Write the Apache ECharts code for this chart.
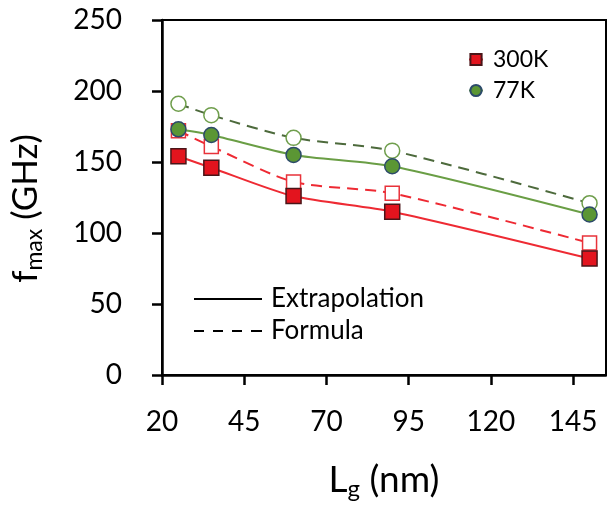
<!DOCTYPE html>
<html>
<head>
<meta charset="utf-8">
<script src="https://cdn.jsdelivr.net/npm/echarts@6/dist/echarts.min.js"></script>
<style>
html,body{margin:0;padding:0;background:#fff;}
#chart{width:607px;height:506px;}
</style>
</head>
<body>
<div id="chart"></div>
<script>
// gate length (nm)
var lg = [25, 35, 60, 90, 150];
// fmax (GHz)
var fmax300Extrap = [154, 146, 126, 115, 82];
var fmax300Formula = [172, 161, 136, 128, 93];
var fmax77Extrap = [173, 169, 155, 147, 113];
var fmax77Formula = [191, 183, 167, 158, 121];
var xTicks = [20, 45, 70, 95, 120, 145];

var FONT = 'Lato';

// legend line icons (solid / dashed), drawn as thin paths
var solidIcon = 'path://M0,0h68v2h-68z';
var dashIcon = 'path://M0,0h10v2h-10z M19,0h10v2h-10z M38,0h10v2h-10z M57,0h11v2h-11z';

function pairs(xs, ys){
	var out = [];
	for (var i = 0; i < xs.length; i++) {
		out.push([xs[i], ys[i]]);
	}
	return out;
}

var chart = echarts.init(document.getElementById('chart'));

var option = {
	animation: false,
	backgroundColor: '#fff',
	textStyle: {fontFamily: FONT},
	grid: {
		left: 162, right: 1, top: 20, bottom: 131,
		outerBoundsMode: 'none',
		show: true, borderColor: '#000', borderWidth: 2
	},
	legend: [{
		data: ['300K', '77K'],
		orient: 'vertical',
		left: 463, top: 43,
		itemWidth: 14, itemHeight: 14, itemGap: 8,
		textStyle: {fontSize: 23, color: '#000', fontFamily: FONT, padding: [0,0,0,5]}
	}, {
		data: [{name: 'Extrapolation', icon: solidIcon}, {name: 'Formula', icon: dashIcon}],
		orient: 'vertical',
		left: 189, top: 281,
		itemWidth: 68, itemHeight: 14, itemGap: 6,
		textStyle: {fontSize: 26, color: '#000', fontFamily: FONT, padding: [0,0,0,4]}
	}],
	xAxis: {
		type: 'value', min: 20, max: 155, interval: 25,
		splitLine: {show: false},
		axisLine: {lineStyle: {color: '#000', width: 2.5}},
		axisTick: {show: true, customValues: xTicks, length: 10, lineStyle: {color: '#000', width: 2.5}},
		axisLabel: {customValues: xTicks, fontSize: 28, color: '#000', fontFamily: FONT, margin: 33},
		name: '{a|L}{b|g}{a| (nm)}',
		nameLocation: 'middle', nameGap: 84,
		nameTextStyle: {
			rich: {
				a: {fontSize: 37, color: '#000', fontFamily: FONT},
				b: {fontSize: 24, color: '#000', fontFamily: FONT, padding: [18,0,0,0]}
			}
		}
	},
	yAxis: {
		type: 'value', min: 0, max: 250, interval: 50,
		splitLine: {show: false},
		axisLine: {show: true, lineStyle: {color: '#000', width: 2.5}},
		axisTick: {show: true, length: 10, lineStyle: {color: '#000', width: 2.5}},
		axisLabel: {fontSize: 28, color: '#000', fontFamily: FONT, margin: 40},
		name: '{a|f}{b|max}{a| (GHz)}',
		nameLocation: 'middle', nameRotate: 90, nameGap: 116,
		nameTextStyle: {
			padding: [0, 22, 0, 0],
			rich: {
				a: {fontSize: 35, color: '#000', fontFamily: FONT},
				b: {fontSize: 23, color: '#000', fontFamily: FONT, padding: [17,0,0,0]}
			}
		}
	},
	series: [{
		name: '300K Formula', type: 'line', smooth: 0.25,
		data: pairs(lg, fmax300Formula),
		symbol: 'rect', symbolSize: 14,
		lineStyle: {color: '#ee2a33', width: 2, type: [11, 7]},
		itemStyle: {color: '#fff', borderColor: '#e8323a', borderWidth: 1.5},
		z: 2
	}, {
		name: '77K Formula', type: 'line', smooth: 0.25,
		data: pairs(lg, fmax77Formula),
		symbol: 'circle', symbolSize: 15,
		lineStyle: {color: '#4d6a3c', width: 2, type: [11, 7]},
		itemStyle: {color: '#fff', borderColor: '#6f9e4c', borderWidth: 1.5},
		z: 2
	}, {
		name: '77K', type: 'line', smooth: 0.25,
		data: pairs(lg, fmax77Extrap),
		symbol: 'circle', symbolSize: 15,
		lineStyle: {color: '#6a9e45', width: 2},
		itemStyle: {color: '#5b9634', borderColor: '#2c4a6a', borderWidth: 1.5},
		z: 3
	}, {
		name: '300K', type: 'line', smooth: 0.25,
		data: pairs(lg, fmax300Extrap),
		symbol: 'rect', symbolSize: 15,
		lineStyle: {color: '#ee2a33', width: 2},
		itemStyle: {color: '#e3141e', borderColor: '#4a1518', borderWidth: 1.5},
		z: 4
	}, {
		name: 'Extrapolation', type: 'line', data: [], symbol: 'none',
		lineStyle: {color: '#000', width: 2},
		itemStyle: {color: '#000'}
	}, {
		name: 'Formula', type: 'line', data: [], symbol: 'none',
		lineStyle: {color: '#000', width: 2, type: [10, 7]},
		itemStyle: {color: '#000'}
	}]
};

chart.setOption(option);
</script>
</body>
</html>
